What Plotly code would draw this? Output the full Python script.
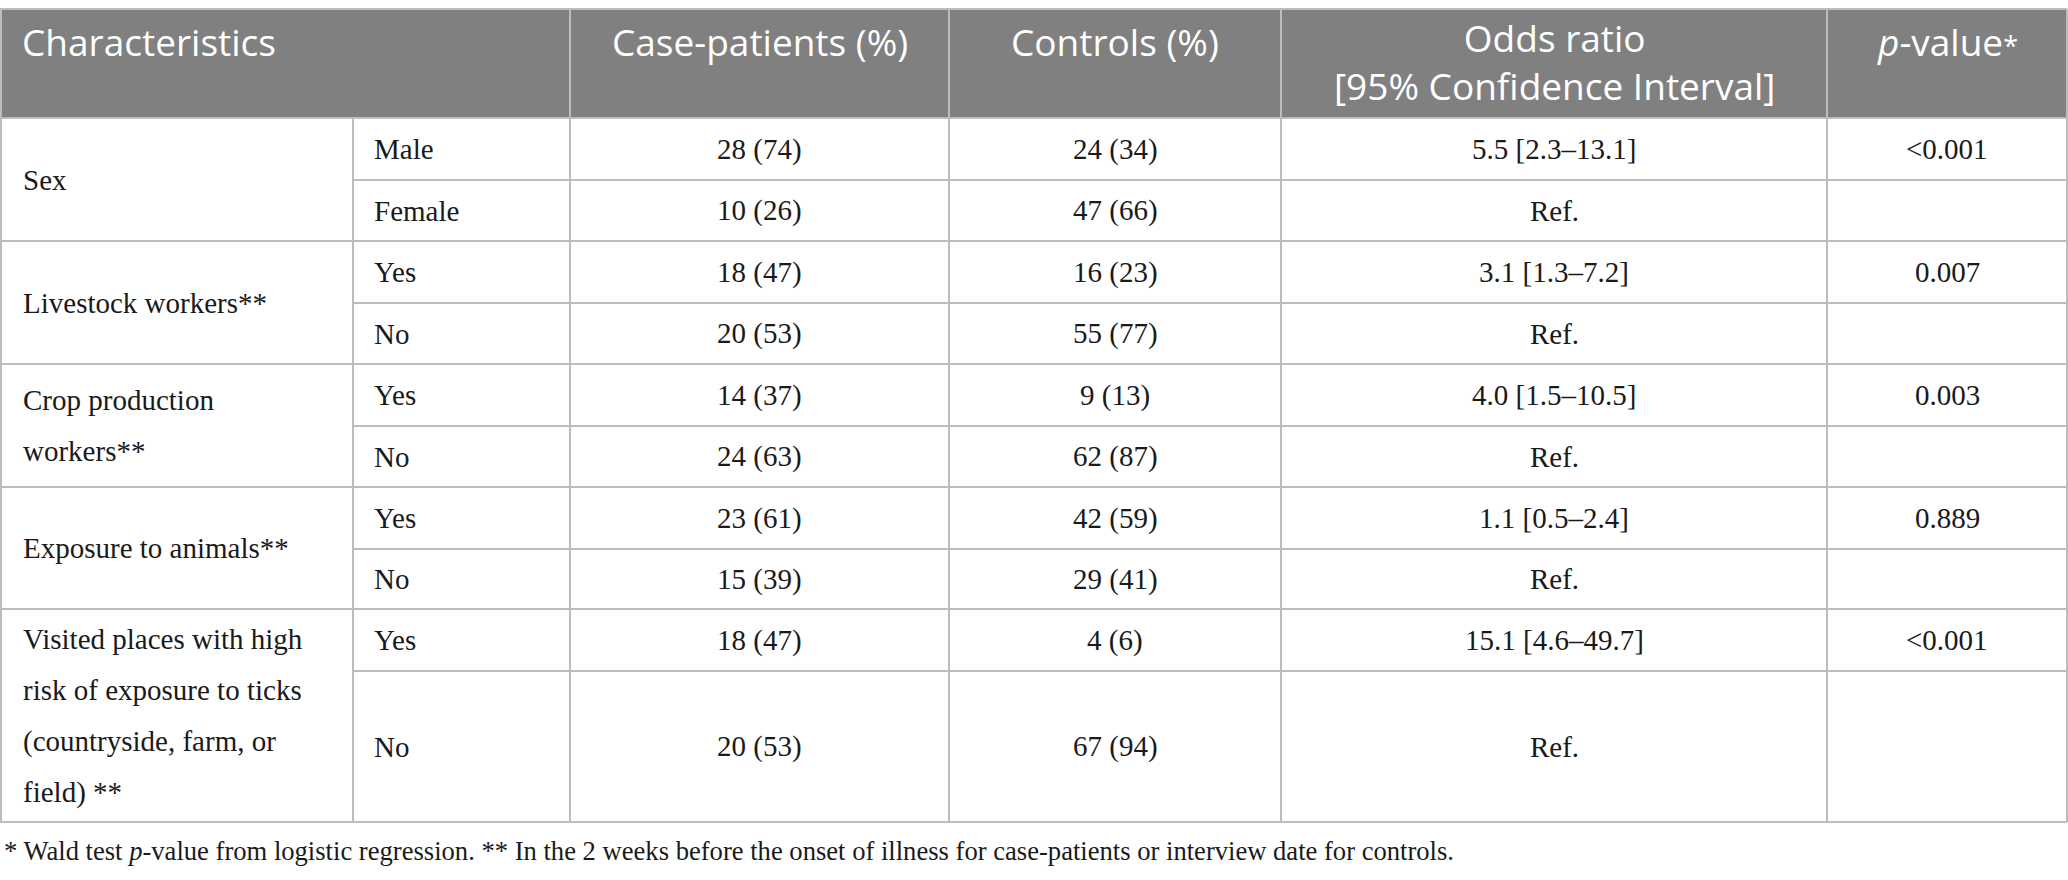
import plotly.graph_objects as go

# table content
headers = ["Characteristics", "Case-patients (%)", "Controls (%)",
           "Odds ratio<br>[95% Confidence Interval]",
           "<i>p</i>-value<span style='font-size:27px'>*</span>"]
characteristics = ["Sex", "Livestock workers**", "Crop production<br>workers**",
                   "Exposure to animals**",
                   "Visited places with high<br>risk of exposure to ticks<br>(countryside, farm, or<br>field) **"]
levels = ["Male", "Female", "Yes", "No", "Yes", "No", "Yes", "No", "Yes", "No"]
case_patients = ["28 (74)", "10 (26)", "18 (47)", "20 (53)", "14 (37)",
                 "24 (63)", "23 (61)", "15 (39)", "18 (47)", "20 (53)"]
controls = ["24 (34)", "47 (66)", "16 (23)", "55 (77)", "9 (13)",
            "62 (87)", "42 (59)", "29 (41)", "4 (6)", "67 (94)"]
odds_ratio = ["5.5 [2.3–13.1]", "Ref.", "3.1 [1.3–7.2]", "Ref.", "4.0 [1.5–10.5]",
              "Ref.", "1.1 [0.5–2.4]", "Ref.", "15.1 [4.6–49.7]", "Ref."]
p_values = ["&lt;0.001", "", "0.007", "", "0.003", "", "0.889", "", "&lt;0.001", ""]
footnote = ("* Wald test <i>p</i>-value from logistic regression. ** In the 2 weeks before "
            "the onset of illness for case-patients or interview date for controls.")

# geometry (pixels)
W, H = 2068, 880
col_edges = [0, 353, 570, 949, 1281, 1827, 2067]
head_top, head_bot = 9, 118
row_h = [62, 61, 62, 61, 62, 61, 62, 60, 62, 151]
row_edges = [head_bot]
for h in row_h:
    row_edges.append(row_edges[-1] + h)

HEAD_FONT = dict(family="Open Sans", size=37, color="white")
BODY_FONT = dict(family="Liberation Serif", size=29, color="#1a1a1a")
BORDER = "#bdbdbd"
LINE_BODY = 51

fig = go.Figure()
shapes, annos = [], []

# header background
shapes.append(dict(type="rect", x0=col_edges[0], x1=col_edges[-1], y0=head_top, y1=head_bot,
                   fillcolor="#808080", line=dict(width=0), layer="below"))


def add_text(x, y, text, font, align="center", step=LINE_BODY):
    lines = text.split("<br>")
    n = len(lines)
    for i, ln in enumerate(lines):
        yy = y + (i - (n - 1) / 2) * step
        annos.append(dict(x=x, y=yy, xref="x", yref="y", text=ln, showarrow=False,
                          font=font, xanchor="left" if align == "left" else "center",
                          yanchor="middle"))


def add_head(x, text, align="center"):
    # one annotation per header cell, first line kept near the top of the band
    n = text.count("<br>") + 1
    annos.append(dict(x=x, y=41 + (n - 1) * 20, xref="x", yref="y", text=text,
                      showarrow=False, font=HEAD_FONT, align=align,
                      xanchor="left" if align == "left" else "center", yanchor="middle"))


# header text
add_head(col_edges[0] + 20, headers[0], align="left")
for j, htxt in enumerate(headers[1:]):
    add_head((col_edges[j + 2] + col_edges[j + 3]) / 2, htxt)

# body rows
for i in range(len(levels)):
    yc = (row_edges[i] + row_edges[i + 1]) / 2
    add_text(col_edges[1] + 19, yc, levels[i], BODY_FONT, align="left")
    for j, col in enumerate([case_patients, controls, odds_ratio, p_values]):
        if col[i]:
            add_text((col_edges[j + 2] + col_edges[j + 3]) / 2, yc, col[i], BODY_FONT)

# merged characteristic cells (two levels each)
for g, name in enumerate(characteristics):
    y0, y1 = row_edges[2 * g], row_edges[2 * g + 2]
    add_text(col_edges[0] + 21, (y0 + y1) / 2, name, BODY_FONT, align="left")

# grid lines
def hline(y, x0, x1, color=BORDER):
    shapes.append(dict(type="line", x0=x0, x1=x1, y0=y, y1=y, line=dict(color=color, width=2)))


def vline(x, y0, y1, color=BORDER):
    shapes.append(dict(type="line", x0=x, x1=x, y0=y0, y1=y1, line=dict(color=color, width=2)))


hline(head_top, col_edges[0], col_edges[-1])
for k, y in enumerate(row_edges):
    x0 = col_edges[1] if k % 2 == 1 else col_edges[0]
    hline(y, x0, col_edges[-1])
vline(col_edges[0] + 1, head_top, row_edges[-1])
vline(col_edges[-1], head_top, row_edges[-1])
vline(col_edges[1], head_bot, row_edges[-1])
for x in col_edges[2:-1]:
    vline(x, head_top, row_edges[-1])

# footnote
annos.append(dict(x=2, y=851, xref="x", yref="y", text=footnote, showarrow=False,
                  font=dict(family="Liberation Serif", size=26.6, color="#1a1a1a"),
                  xanchor="left", yanchor="middle"))

fig.update_layout(width=W, height=H, margin=dict(l=0, r=0, t=0, b=0),
                  paper_bgcolor="white", plot_bgcolor="white",
                  xaxis=dict(range=[0, W], visible=False, fixedrange=True),
                  yaxis=dict(range=[H, 0], visible=False, fixedrange=True),
                  shapes=shapes, annotations=annos, showlegend=False)
fig.write_html("out.html", config={"displayModeBar": False},
               post_script="document.body.style.margin='0';")
